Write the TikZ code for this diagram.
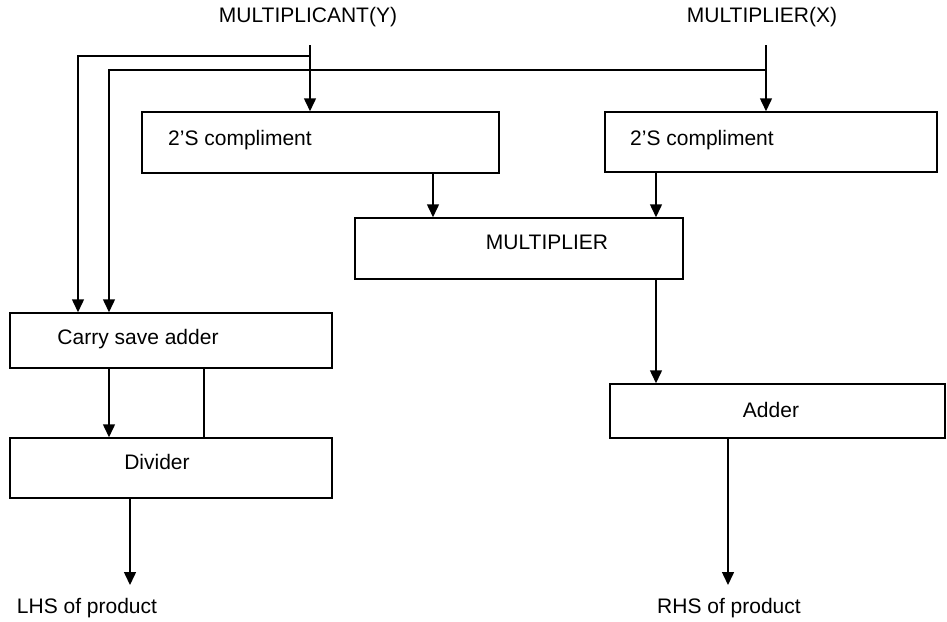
\documentclass[tikz,border=0pt]{standalone}
\usepackage{fontspec}
\setmainfont{Liberation Sans}
\usetikzlibrary{arrows.meta}
\begin{document}
\begin{tikzpicture}[x=0.5pt,y=-0.5pt,
  box/.style={draw, line width=0.75pt, minimum width=#1, inner sep=0pt},
  lbl/.style={inner sep=0pt, font=\fontsize{10.5}{12.6}\selectfont},
  wire/.style={line width=0.75pt},
  arr/.style={line width=0.75pt, -{Triangle[length=6.5pt,width=6pt]}}]
\useasboundingbox (0,0) rectangle (947,621);
% boxes
\node[box=178.5pt, minimum height=30.5pt] (comp1) at (320.5,142.5) {};
\node[box=166pt, minimum height=30pt] (comp2) at (771,142) {};
\node[box=164pt, minimum height=30.5pt] (mult) at (519,248.5) {};
\node[box=161pt, minimum height=27.5pt] (csa) at (171,340.5) {};
\node[box=161pt, minimum height=30pt] (div) at (171,468) {};
\node[box=167.5pt, minimum height=27pt] (adder) at (777.5,411) {};
% texts
\node[lbl] (ty) at (308,17) {MULTIPLICANT(Y)};
\node[lbl] (tx) at (762,17) {MULTIPLIER(X)};
\node[lbl] (t1) at (240,140) {2’S compliment};
\node[lbl] (t2) at (702,140) {2’S compliment};
\node[lbl] (tm) at (547,242) {MULTIPLIER};
\node[lbl] (tc) at (138,339) {Carry save adder};
\node[lbl] (td) at (157,462) {Divider};
\node[lbl] (ta) at (771,410) {Adder};
\node[lbl] (lhs) at (87,608) {LHS of product};
\node[lbl] (rhs) at (729,608) {RHS of product};
% helper coordinates
\coordinate (ystart) at (310,45);
\coordinate (ybend) at (310,56);
\coordinate (ycorner) at (78,56);
\coordinate (xstart) at (766,45);
\coordinate (xbend) at (766,70);
\coordinate (xcorner) at (109,70);
\coordinate (c433) at (433,0);
\coordinate (c656) at (656,0);
\coordinate (c109) at (109,0);
\coordinate (c204) at (204,0);
\coordinate (c130) at (130,0);
\coordinate (c728) at (728,0);
\coordinate (lend) at (130,585);
\coordinate (rend) at (728,585);
% connectors
\draw[arr] (ystart) -- (ystart |- comp1.north);
\draw[arr] (ybend) -- (ycorner) -- (ycorner |- csa.north);
\draw[arr] (xstart) -- (xstart |- comp2.north);
\draw[arr] (xbend) -- (xcorner) -- (xcorner |- csa.north);
\draw[arr] (comp1.south -| c433) -- (mult.north -| c433);
\draw[arr] (comp2.south -| c656) -- (mult.north -| c656);
\draw[arr] (mult.south -| c656) -- (adder.north -| c656);
\draw[arr] (csa.south -| c109) -- (div.north -| c109);
\draw[wire] (csa.south -| c204) -- (div.north -| c204);
\draw[arr] (div.south -| c130) -- (lend);
\draw[arr] (adder.south -| c728) -- (rend);
\end{tikzpicture}
\end{document}
